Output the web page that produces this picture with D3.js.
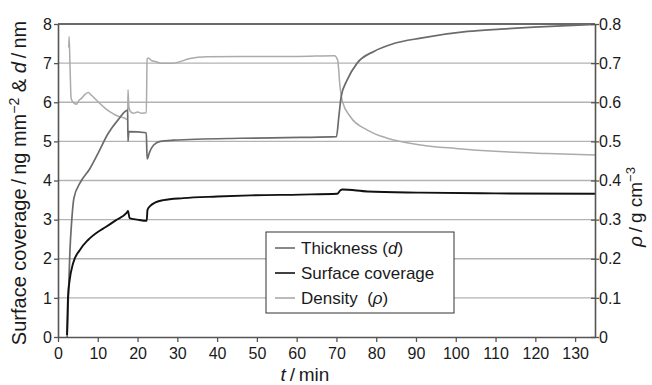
<!DOCTYPE html>
<html>
<head>
<meta charset="utf-8">
<script src="https://cdn.jsdelivr.net/npm/d3@7"></script>
<style>
  body { margin: 0; background: #fff; }
  svg { font-family: "Liberation Sans", Arial, sans-serif; }
</style>
</head>
<body>
<div id="graph"></div>
<script>
// time (min) and values
var timeD = [2.3, 2.6, 3.0, 3.4, 4.0, 5.5, 8.0, 10.1, 12.6, 15.1, 17.5, 17.6, 17.8, 22.2, 22.4, 23.0, 24.0, 25.7, 29, 45.8, 61, 70, 70.6, 71.2, 72.7, 75.2, 79.4, 84.4, 91.2, 103, 111.3, 119.7, 128, 135];
var thickness = [0, 1.0, 2.2, 2.9, 3.55, 3.93, 4.3, 4.7, 5.2, 5.55, 5.8, 5.0, 5.25, 5.22, 4.55, 4.72, 4.9, 5.0, 5.03, 5.08, 5.1, 5.12, 5.63, 6.15, 6.57, 7.0, 7.3, 7.5, 7.64, 7.81, 7.87, 7.92, 7.96, 7.99];

var timeS = [2.27, 2.4, 2.52, 2.94, 3.78, 5.46, 7.56, 10.1, 12.0, 14.5, 17.3, 17.6, 18.0, 20, 22.3, 22.5, 23.2, 24.5, 26.5, 31.5, 40, 48.4, 61, 70.2, 71, 71.5, 77.8, 91, 110, 135];
var coverage = [0.05, 0.6, 1.03, 1.46, 1.88, 2.22, 2.48, 2.69, 2.81, 2.98, 3.18, 3.22, 3.04, 3.0, 2.97, 3.25, 3.35, 3.44, 3.5, 3.55, 3.59, 3.62, 3.64, 3.66, 3.75, 3.77, 3.72, 3.69, 3.67, 3.66];

var timeR = [2.7, 2.8, 3.0, 3.3, 3.8, 4.6, 5.3, 5.9, 6.8, 7.6, 8.4, 9.2, 10.5, 11.8, 13, 14.3, 15.5, 16.8, 17.5, 17.6, 17.8, 18.2, 19, 20, 21, 22.2, 22.4, 22.7, 23.6, 24.5, 25.7, 29, 33.2, 37.5, 45.8, 60, 69.5, 70.3, 70.9, 71.5, 73.5, 77.8, 82.8, 91.2, 100, 111, 123, 135];
var density = [0.74, 0.768, 0.70, 0.61, 0.60, 0.595, 0.605, 0.61, 0.62, 0.625, 0.618, 0.61, 0.597, 0.585, 0.576, 0.568, 0.563, 0.559, 0.555, 0.632, 0.59, 0.576, 0.572, 0.575, 0.572, 0.573, 0.71, 0.713, 0.706, 0.704, 0.70, 0.70, 0.712, 0.716, 0.717, 0.717, 0.719, 0.708, 0.64, 0.602, 0.563, 0.529, 0.508, 0.491, 0.482, 0.474, 0.469, 0.465];

var xTicks = [0, 10, 20, 30, 40, 50, 60, 70, 80, 90, 100, 110, 120, 130];
var leftTicks = [0, 1, 2, 3, 4, 5, 6, 7, 8];
var rightTicks = [0, 0.1, 0.2, 0.3, 0.4, 0.5, 0.6, 0.7, 0.8];

(function(){
"use strict";

var width = 652, height = 385;
var plotLeft = 58, plotRight = 595, plotTop = 24, plotBottom = 337;

var svg = d3.select("#graph").append("svg")
    .attr("width", width)
    .attr("height", height);

var xScale = d3.scaleLinear().domain([0, 135]).range([plotLeft, plotRight]);
var yLeft = d3.scaleLinear().domain([0, 8]).range([plotBottom, plotTop]);
var yRight = d3.scaleLinear().domain([0, 0.8]).range([plotBottom, plotTop]);

// gridlines
svg.append("g").selectAll("line")
    .data(leftTicks.slice(1, 8))
    .enter().append("line")
    .attr("x1", plotLeft).attr("x2", plotRight)
    .attr("y1", function(d){ return yLeft(d); })
    .attr("y2", function(d){ return yLeft(d); })
    .attr("stroke", "#b3b3b3")
    .attr("stroke-width", 1.3);

// top border line
svg.append("line")
    .attr("x1", plotLeft).attr("x2", plotRight)
    .attr("y1", yLeft(8)).attr("y2", yLeft(8))
    .attr("stroke", "#6a6a6a").attr("stroke-width", 2);

// series
function makeLine(times, yScale) {
    return d3.line()
        .x(function(d, i){ return xScale(times[i]); })
        .y(function(d){ return yScale(d); })
        .curve(d3.curveMonotoneX);
}

var series = [
    {t: timeR, v: density, y: yRight, color: "#ababab", w: 1.5},
    {t: timeD, v: thickness, y: yLeft, color: "#6b6b6b", w: 1.7},
    {t: timeS, v: coverage, y: yLeft, color: "#111", w: 1.9}
];

series.forEach(function(s){
    svg.append("path")
        .datum(s.v)
        .attr("d", makeLine(s.t, s.y))
        .attr("fill", "none")
        .attr("stroke", s.color)
        .attr("stroke-width", s.w)
        .attr("stroke-linejoin", "round");
});

// axes
var xAxis = d3.axisBottom(xScale).tickValues(xTicks).tickSize(5).tickSizeOuter(0);
var lAxis = d3.axisLeft(yLeft).tickValues(leftTicks).tickSize(4).tickSizeOuter(0);
var rAxis = d3.axisRight(yRight).tickValues(rightTicks).tickSize(4).tickSizeOuter(0)
    .tickFormat(function(d){ return d === 0 ? "0" : d3.format(".1f")(d); });

function styleAxis(g) {
    g.select(".domain").attr("stroke", "#555").attr("stroke-width", 1.6);
    g.selectAll(".tick line").attr("stroke", "#555").attr("stroke-width", 1.3);
    g.selectAll(".tick text").attr("fill", "#1a1a1a").attr("font-size", 16)
        .attr("font-family", "Liberation Sans, Arial, sans-serif");
}

svg.append("g")
    .attr("transform", "translate(0," + plotBottom + ")")
    .call(xAxis).call(styleAxis)
    .selectAll(".tick text").attr("dy", "0.85em");

svg.append("g")
    .attr("transform", "translate(" + plotLeft + ",0)")
    .call(lAxis).call(styleAxis)
    .selectAll(".tick text").attr("x", -6);

var rg = svg.append("g")
    .attr("transform", "translate(" + plotRight + ",0)")
    .call(rAxis).call(styleAxis);
rg.selectAll(".tick line").attr("x1", -4);
rg.selectAll(".tick text").attr("x", 4);

// axis titles
var lt = svg.append("text")
    .attr("transform", "translate(26,183)rotate(-90)")
    .attr("text-anchor", "middle")
    .attr("font-size", 20)
    .attr("fill", "#1a1a1a");
lt.append("tspan").text("Surface coverage\u2009/\u2009ng mm");
lt.append("tspan").attr("dy", -7).attr("font-size", 14).text("\u22122");
lt.append("tspan").attr("dy", 7).text(" & ");
lt.append("tspan").attr("font-style", "italic").text("d");
lt.append("tspan").text("\u2009/\u2009nm");

var rt = svg.append("text")
    .attr("transform", "translate(642,207)rotate(-90)")
    .attr("text-anchor", "middle")
    .attr("font-size", 19)
    .attr("fill", "#1a1a1a");
rt.append("tspan").attr("font-style", "italic").text("\u03c1");
rt.append("tspan").text("\u2009/\u2009g cm");
rt.append("tspan").attr("dy", -7).attr("font-size", 13).text("\u22123");

var xt = svg.append("text")
    .attr("x", 305).attr("y", 381)
    .attr("text-anchor", "middle")
    .attr("font-size", 19)
    .attr("fill", "#1a1a1a");
xt.append("tspan").attr("font-style", "italic").text("t");
xt.append("tspan").text("\u2009/\u2009min");

// legend
var legend = svg.append("g").attr("transform", "translate(266,232)");
legend.append("rect")
    .attr("width", 188).attr("height", 81)
    .attr("fill", "#fff").attr("stroke", "#333").attr("stroke-width", 1);

var legendItems = [
    {parts: [["Thickness (", "normal"], ["d", "italic"], [")", "normal"]], color: "#6b6b6b"},
    {parts: [["Surface coverage", "normal"]], color: "#111"},
    {parts: [["Density\u00a0\u00a0(", "normal"], ["\u03c1", "italic"], [")", "normal"]], color: "#ababab"}
];

legendItems.forEach(function(item, i){
    var cy = 16 + i * 25;
    legend.append("line")
        .attr("x1", 9).attr("x2", 29)
        .attr("y1", cy).attr("y2", cy)
        .attr("stroke", item.color).attr("stroke-width", 1.6);
    var t = legend.append("text")
        .attr("x", 35).attr("y", cy + 6)
        .attr("font-size", 17)
        .attr("fill", "#1a1a1a");
    item.parts.forEach(function(p){
        t.append("tspan").attr("font-style", p[1]).text(p[0]);
    });
});

})();
</script>
</body>
</html>
